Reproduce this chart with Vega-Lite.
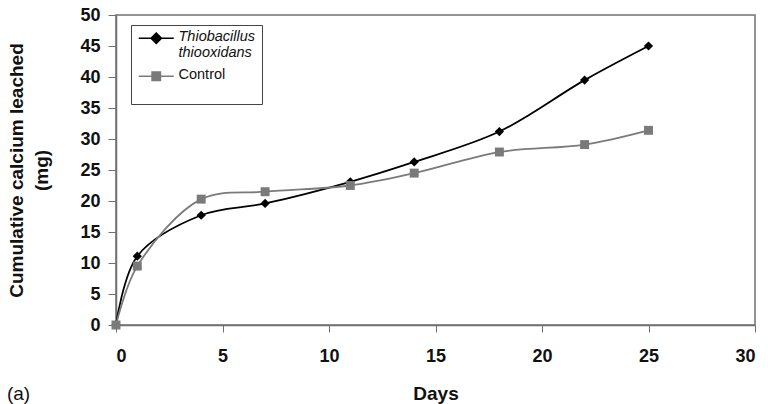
{
  "$schema": "https://vega.github.io/schema/vega-lite/v6.json",
  "width": 639,
  "height": 310,
  "autosize": "none",
  "padding": {"left": 116, "top": 15, "right": 13, "bottom": 79},
  "background": "white",
  "title": {
    "text": "(a)",
    "orient": "bottom",
    "anchor": "start",
    "frame": "bounds",
    "offset": -18,
    "dx": -1,
    "font": "Liberation Sans",
    "fontSize": 19,
    "fontWeight": "normal",
    "color": "#111"
  },
  "config": {
    "view": {"stroke": "#707070", "strokeWidth": 1.5},
    "axis": {
      "grid": false,
      "domainColor": "#707070",
      "domainWidth": 1.5,
      "tickColor": "#707070",
      "tickWidth": 1,
      "labelFont": "Liberation Sans",
      "labelFontSize": 18,
      "labelFontWeight": "bold",
      "labelColor": "#111",
      "titleFont": "Liberation Sans",
      "titleFontSize": 19,
      "titleFontWeight": "bold",
      "titleColor": "#111"
    }
  },
  "data": {
    "values": [
      {"day": 0, "ca": 0, "series": "Thiobacillus thiooxidans"},
      {"day": 1, "ca": 11.1, "series": "Thiobacillus thiooxidans"},
      {"day": 4, "ca": 17.7, "series": "Thiobacillus thiooxidans"},
      {"day": 7, "ca": 19.6, "series": "Thiobacillus thiooxidans"},
      {"day": 11, "ca": 23.1, "series": "Thiobacillus thiooxidans"},
      {"day": 14, "ca": 26.3, "series": "Thiobacillus thiooxidans"},
      {"day": 18, "ca": 31.2, "series": "Thiobacillus thiooxidans"},
      {"day": 22, "ca": 39.5, "series": "Thiobacillus thiooxidans"},
      {"day": 25, "ca": 45.0, "series": "Thiobacillus thiooxidans"},
      {"day": 0, "ca": 0, "series": "Control"},
      {"day": 1, "ca": 9.5, "series": "Control"},
      {"day": 4, "ca": 20.3, "series": "Control"},
      {"day": 7, "ca": 21.5, "series": "Control"},
      {"day": 11, "ca": 22.5, "series": "Control"},
      {"day": 14, "ca": 24.5, "series": "Control"},
      {"day": 18, "ca": 27.9, "series": "Control"},
      {"day": 22, "ca": 29.1, "series": "Control"},
      {"day": 25, "ca": 31.4, "series": "Control"}
    ]
  },
  "encoding": {
    "x": {
      "field": "day",
      "type": "quantitative",
      "scale": {"domain": [0, 30], "nice": false},
      "axis": {"values": [0, 5, 10, 15, 20, 25, 30], "title": "Days", "tickSize": 7, "labelPadding": 15, "titlePadding": 19}
    },
    "y": {
      "field": "ca",
      "type": "quantitative",
      "scale": {"domain": [0, 50], "nice": false},
      "axis": {
        "values": [0, 5, 10, 15, 20, 25, 30, 35, 40, 45, 50],
        "title": ["Cumulative calcium leached", "(mg)"],
        "titleLineHeight": 25,
        "tickSize": 8,
        "labelPadding": 8,
        "titlePadding": 28
      }
    },
    "color": {
      "field": "series",
      "type": "nominal",
      "scale": {"domain": ["Thiobacillus thiooxidans", "Control"], "range": ["#000000", "#7a7a7a"]},
      "legend": {
        "orient": "none",
        "legendX": 15,
        "legendY": 10,
        "title": null,
        "padding": 6,
        "strokeColor": "#444444",
        "fillColor": "white",
        "symbolSize": 49,
        "symbolStrokeWidth": 1.5,
        "symbolOffset": 12,
        "labelOffset": 15,
        "labelFont": "Liberation Sans",
        "labelFontSize": 14.5,
        "labelColor": "#111",
        "labelBaseline": "top",
        "labelExpr": "datum.value == 'Control' ? ['Control', ''] : ['Thiobacillus', 'thiooxidans']",
        "rowPadding": 7,
        "encode": {
          "symbols": {
            "update": {
              "shape": {"signal": "datum.value == 'Control' ? 'M-5,0H5M-1.2,-1.2H1.2V1.2H-1.2Z' : 'M-5,0H5M0,-1.5L1.5,0L0,1.5L-1.5,0Z'"},
              "stroke": {"signal": "scale('color', datum.value)"},
              "fill": {"signal": "scale('color', datum.value)"}
            },
            "shape": {"signal": "datum.value == 'Control' ? 'M-5,0H5M-1.2,-1.2H1.2V1.2H-1.2Z' : 'M-5,0H5M0,-1.5L1.5,0L0,1.5L-1.5,0Z'"},
            "stroke": {"signal": "scale('color', datum.value)"},
            "fill": {"signal": "scale('color', datum.value)"}
          },
          "labels": {
            "update": {
              "fontStyle": {"signal": "datum.value == 'Control' ? 'normal' : 'italic'"},
              "lineHeight": {"value": 16},
              "dy": {"value": -8}
            }
          }
        }
      }
    }
  },
  "layer": [
    {
      "mark": {"type": "line", "interpolate": "catmull-rom", "strokeWidth": 1.8}
    },
    {
      "transform": [{"filter": "datum.series == 'Thiobacillus thiooxidans'"}],
      "mark": {"type": "point", "filled": true, "opacity": 1, "shape": "diamond", "size": 85}
    },
    {
      "transform": [{"filter": "datum.series == 'Control'"}],
      "mark": {"type": "point", "filled": true, "opacity": 1, "shape": "square", "size": 80}
    }
  ]
}
